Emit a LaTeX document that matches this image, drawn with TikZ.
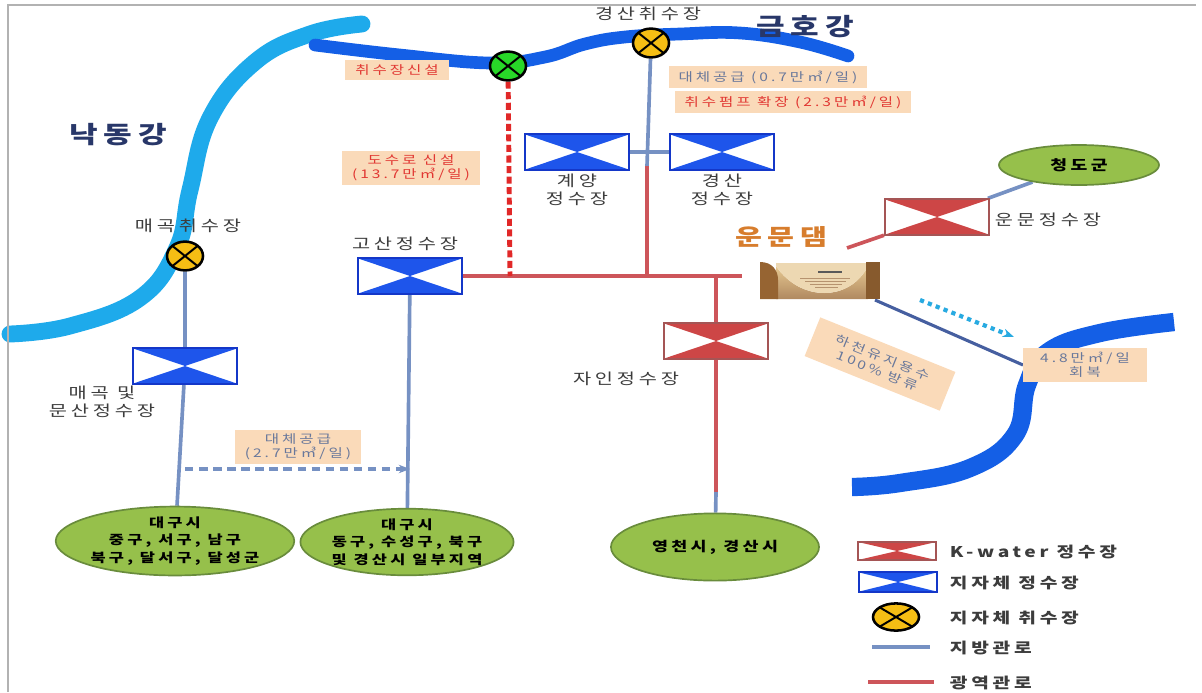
\documentclass[tikz,border=0pt]{standalone}
\usepackage{fontspec}
\setmainfont{Noto Sans CJK KR}[FakeStretch=1.3,LetterSpace=25]
\usetikzlibrary{shapes.geometric,arrows.meta,backgrounds}

\definecolor{kwred}{RGB}{205,70,70}
\definecolor{kwedge}{RGB}{165,85,85}
\definecolor{lgblue}{RGB}{30,85,235}
\definecolor{lgedge}{RGB}{20,55,200}
\definecolor{intakey}{RGB}{245,190,20}
\definecolor{intakeg}{RGB}{40,215,40}
\definecolor{localpipe}{RGB}{118,145,195}
\definecolor{widepipe}{RGB}{205,85,90}
\definecolor{newpipe}{RGB}{225,40,40}
\definecolor{nakdong}{RGB}{30,170,235}
\definecolor{geumho}{RGB}{20,95,230}
\definecolor{peach}{RGB}{250,218,185}
\definecolor{memored}{RGB}{225,55,50}
\definecolor{memogrey}{RGB}{105,120,155}
\definecolor{citygreen}{RGB}{150,192,75}
\definecolor{cityedge}{RGB}{105,140,60}
\definecolor{rivertext}{RGB}{40,55,105}
\definecolor{damtext}{RGB}{215,125,45}
\definecolor{labelgrey}{RGB}{60,60,60}
\definecolor{damtan}{RGB}{230,200,145}
\definecolor{dambrown}{RGB}{150,100,50}
\definecolor{outflow}{RGB}{70,95,160}
\definecolor{flowcyan}{RGB}{40,170,225}

\newcommand\lblfont{\fontsize{10.8}{13}\selectfont}
\newcommand\memofont{\fontsize{8.5}{10}\selectfont}

\tikzset{
  wtp/.style 2 args={draw=#2, line width=1.5pt, fill=white, inner sep=0pt,
    minimum width=2.6cm, minimum height=0.88cm,
    path picture={\fill[#1] (path picture bounding box.north west) -- (path picture bounding box.center) -- (path picture bounding box.north east) -- cycle
      (path picture bounding box.south west) -- (path picture bounding box.center) -- (path picture bounding box.south east) -- cycle;}},
  intake/.style={ellipse, draw=black, line width=1.8pt, fill=#1, inner sep=0pt,
    minimum width=0.9cm, minimum height=0.72cm,
    path picture={\draw[black, line width=1.4pt] (path picture bounding box.north west) -- (path picture bounding box.south east)
      (path picture bounding box.north east) -- (path picture bounding box.south west);}},
  city/.style={ellipse, draw=cityedge, line width=1.2pt, fill=citygreen, inner sep=0pt,
    text=black, align=center, font=\bfseries\fontsize{9}{12.5}\selectfont},
  memo/.style={fill=peach, inner xsep=7pt, inner ysep=3pt, align=center, font=\memofont},
  lbl/.style={text=labelgrey, align=center, font=\lblfont},
  rivername/.style={text=rivertext, font=\bfseries\fontsize{17}{20}\selectfont},
  localline/.style={localpipe, line width=2.6pt},
  wideline/.style={widepipe, line width=2.6pt},
  legendtext/.style={anchor=west, text=labelgrey, font=\bfseries\fontsize{10.5}{12}\selectfont}
}

\begin{document}
\begin{tikzpicture}[x=0.025cm,y=-0.025cm]
\useasboundingbox (0,0) rectangle (1202,692);
\draw[gray!60, line width=0.8pt] (8,692) -- (8,5) -- (1196,5);

\node[rivername] (nakdonglbl) at (118,135) {낙동강};
\node[rivername] (geumholbl) at (805,27) {금호강};

% intakes
\node[intake=intakeg] (newintake) at (508,66) {};
\node[intake=intakey] (gsintake) at (651,43) {};
\node[intake=intakey] (mgintake) at (185,256) {};
\node[lbl] (gsintakelbl) at (648,14) {경산취수장};
\node[lbl] (mgintakelbl) at (188,226) {매곡취수장};

% water treatment plants
\node[wtp={lgblue}{lgedge}] (gyeyang) at (577,152) {};
\node[wtp={lgblue}{lgedge}] (gyeongsan) at (722,152) {};
\node[wtp={lgblue}{lgedge}] (gosan) at (410,276) {};
\node[wtp={lgblue}{lgedge}] (maegok) at (185,366) {};
\node[wtp={kwred}{kwedge}] (jain) at (716,341) {};
\node[wtp={kwred}{kwedge}] (unmun) at (937,217) {};
\node[lbl] (gyeyanglbl) at (577,190) {계양\\정수장};
\node[lbl] (gyeongsanlbl) at (722,190) {경산\\정수장};
\node[lbl] (gosanlbl) at (405,244) {고산정수장};
\node[lbl] (maegoklbl) at (102,402) {매곡 및\\문산정수장};
\node[lbl] (jainlbl) at (626,379) {자인정수장};
\node[lbl, anchor=west] (unmunlbl) at (990,220) {운문정수장};

% supplied areas
\node[city, minimum width=5.4cm, minimum height=1.62cm] (daegua) at (175,541) {대구시\\중구, 서구, 남구\\북구, 달서구, 달성군};
\node[city, minimum width=5.2cm, minimum height=1.62cm] (daegub) at (407,542) {대구시\\동구, 수성구, 북구\\및 경산시 일부지역};
\node[city, minimum width=5.2cm, minimum height=1.68cm, font=\bfseries\fontsize{9.5}{12}\selectfont] (yeongcheon) at (715,547) {영천시, 경산시};
\node[city, minimum width=4cm, minimum height=1cm, font=\bfseries\fontsize{10}{12}\selectfont] (cheongdo) at (1079,165) {청도군};

% notes
\node[memo, text=memored] (newintakememo) at (397,70) {취수장신설};
\node[memo, text=memogrey] (altmemo) at (768,77) {대체공급 (0.7만㎥/일)};
\node[memo, text=memored] (pumpmemo) at (793,102) {취수펌프 확장 (2.3만㎥/일)};
\node[memo, text=memored] (conduitmemo) at (411,168) {도수로 신설\\(13.7만㎥/일)};
\node[memo, text=memogrey] (altmemob) at (298,447) {대체공급\\(2.7만㎥/일)};
\node[memo, text=memogrey, rotate=-22, inner xsep=16pt, inner ysep=6pt] (riverflow) at (880,364) {하천유지용수\\100\% 방류};
\node[memo, text=memogrey, inner xsep=12pt] (recover) at (1085,365) {4.8만㎥/일\\회복};

% Unmun dam
\node[text=damtext, font=\bfseries\fontsize{16}{18}\selectfont] (damlbl) at (781,237) {운문댐};
\shade[top color=damtan, bottom color=dambrown!80] (776,266) .. controls (800,302) and (850,302) .. (868,266) -- (868,299) -- (776,299) -- cycle;
\fill[damtan!70] (776,263) -- (868,263) -- (868,266) .. controls (850,302) and (800,302) .. (776,266) -- cycle;
\fill[dambrown] (760,262) .. controls (772,262) and (778,270) .. (778,280) -- (778,299) -- (760,299) -- cycle;
\fill[dambrown!90!black] (866,262) rectangle (880,299);
\foreach \i in {0,1,2,3}
  \draw[dambrown!70, line width=0.6pt] (800+\i*5,278+\i*3) -- (850-\i*4,278+\i*3);
\draw[gray!70!black, line width=1.5pt] (818,272) -- (842,272);

\coordinate (gssplit) at (647,166);
\coordinate (gsjoin) at (647,276);
\coordinate (newjoin) at (510,276);
\coordinate (jainjoin) at (716,276);
\coordinate (trunkend) at (742,276);
\coordinate (yjsplit) at (716,492);
\coordinate (altfrom) at (185,469);
\coordinate (altto) at (410,469);
\coordinate (damtap) at (847,248);
\coordinate (damfoot) at (875,300);
\coordinate (flowfrom) at (920,300);
\coordinate (flowto) at (1014,337);

\begin{scope}[on background layer]
% rivers
\draw[nakdong, line width=12pt, line cap=round] plot[smooth, tension=0.7] coordinates {(362,24) (310,34) (255,62) (210,118) (190,190) (177,248) (140,298) (70,326) (10,334)};
\draw[geumho, line width=9pt, line cap=round] plot[smooth, tension=0.7] coordinates {(315,45) (400,55) (490,63) (545,57) (585,44) (625,37) (680,34) (740,33) (800,42) (848,56)};
\draw[geumho, line width=13pt] plot[smooth, tension=0.7] coordinates {(1174,322) (1100,333) (1048,352) (1027,385) (1015,435) (970,468) (900,483) (852,487)};
% pipes
\draw[localline] (gsintake) -- (gssplit);
\draw[localline] (gyeyang) -- (gyeongsan);
\draw[wideline] (gssplit) -- (gsjoin);
\draw[wideline] (gosan) -- (trunkend);
\draw[newpipe, line width=3.5pt, dash pattern=on 5pt off 2.5pt] (newintake) -- (newjoin);
\draw[wideline] (jainjoin) -- (jain) -- (yjsplit);
\draw[localline] (yjsplit) -- (yeongcheon);
\draw[localline] (mgintake) -- (maegok) -- (daegua);
\draw[localline] (gosan) -- (daegub);
\draw[localline] (cheongdo) -- (unmun);
\draw[wideline] (unmun) -- (damtap);
\draw[outflow, line width=2.2pt] (damfoot) -- (recover.west);
\end{scope}
\draw[localpipe, line width=2.2pt, dash pattern=on 6pt off 4pt, -{Stealth[length=8pt]}] (altfrom) -- (altto);
\draw[flowcyan, line width=3pt, dash pattern=on 3pt off 3pt, -{Stealth[length=8pt]}] (flowfrom) -- (flowto);

% legend
\node[wtp={kwred}{kwedge}, minimum width=1.95cm, minimum height=0.45cm] (lgkw) at (897,551) {};
\node[wtp={lgblue}{lgedge}, minimum width=1.95cm, minimum height=0.48cm] (lglocal) at (898,582) {};
\node[intake=intakey, minimum width=1.15cm, minimum height=0.68cm] (lgintake) at (896,617) {};
\coordinate (lgpipea) at (872,647);
\coordinate (lgpipeb) at (930,647);
\coordinate (lgpipec) at (868,682);
\coordinate (lgpiped) at (934,682);
\draw[localline] (lgpipea) -- (lgpipeb);
\draw[wideline] (lgpipec) -- (lgpiped);
\node[legendtext] (lgkwtxt) at (945,552) {K-water 정수장};
\node[legendtext] (lglocaltxt) at (945,583) {지자체 정수장};
\node[legendtext] (lgintaketxt) at (945,618) {지자체 취수장};
\node[legendtext] (lgpipetxt) at (945,648) {지방관로};
\node[legendtext] (lgwidetxt) at (945,683) {광역관로};
\end{tikzpicture}
\end{document}
